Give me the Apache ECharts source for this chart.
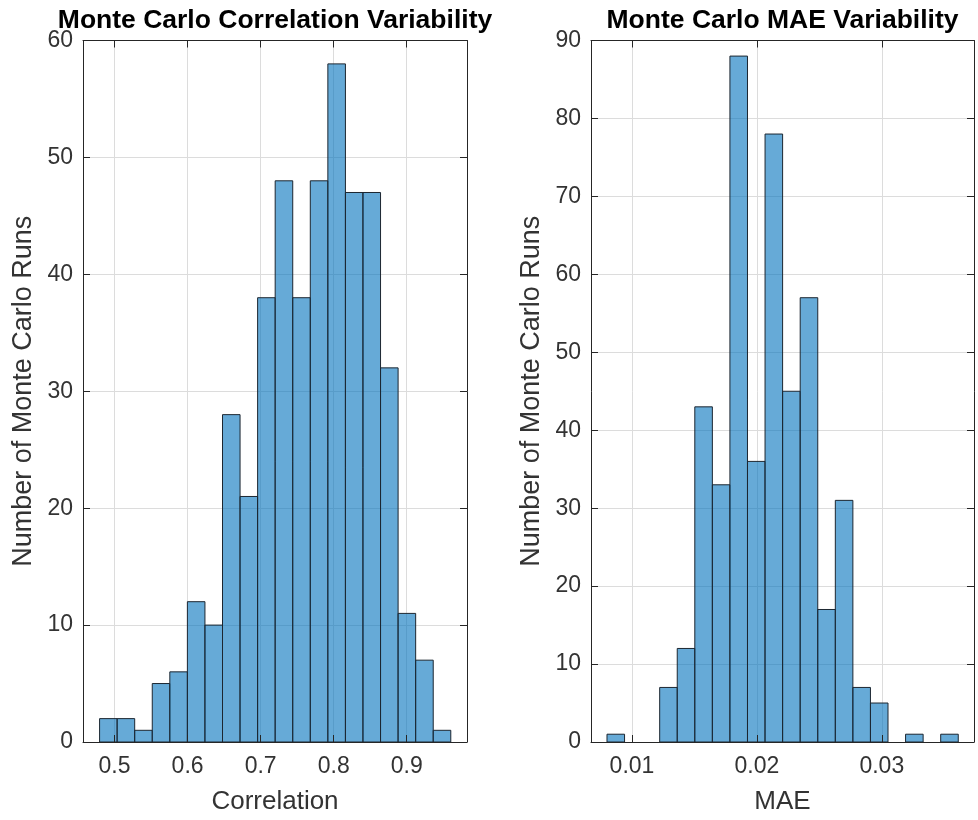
<!DOCTYPE html>
<html>
<head>
<meta charset="utf-8">
<script src="https://cdn.jsdelivr.net/npm/echarts@6/dist/echarts.min.js"></script>
<style>html,body{margin:0;padding:0;background:#fff;}#c{width:978px;height:820px;}</style>
</head>
<body>
<div id="c"></div>
<script>
// ---- data ----
const corrCounts = [2, 2, 1, 5, 6, 12, 10, 28, 21, 38, 48, 38, 48, 58, 47, 47, 32, 11, 7, 1];
const corrBinStart = 0.4795;
const corrBinWidth = 0.02404;
const maeCounts = [1, 0, 0, 7, 12, 43, 33, 88, 36, 78, 45, 57, 17, 31, 7, 5, 0, 1, 0, 1];
const maeBinStart = 0.0080;
const maeBinWidth = 0.001406;
const corrTicks = [0.5, 0.6, 0.7, 0.8, 0.9];
const maeTicks = [0.01, 0.02, 0.03];
const titles = ['Monte Carlo Correlation Variability', 'Monte Carlo MAE Variability'];
const xNames = ['Correlation', 'MAE'];
const yName = 'Number of Monte Carlo Runs';

function binsToData(counts, start, width) {
  const out = [];
  counts.forEach((c, i) => {
    if (c > 0) out.push([start + i * width, start + (i + 1) * width, c]);
  });
  return out;
}

const FONT = 'Liberation Sans, Arial, Helvetica, sans-serif';
const AX = '#262626';
const TXT = '#333333';

const grids = [
  { left: 83, top: 40.5, width: 384, height: 702.5 },
  { left: 591, top: 40.5, width: 383, height: 702.5 }
];
const xRanges = [[0.4568, 0.9825], [0.00672, 0.03738]];
const yMax = [60, 90];
const xTicksArr = [corrTicks, maeTicks];

const xAxes = [], yAxes = [], series = [];
[0, 1].forEach(g => {
  const base = { type: 'value', gridIndex: g, min: xRanges[g][0], max: xRanges[g][1] };
  // primary: labels, name, grid lines
  xAxes.push(Object.assign({}, base, {
    position: 'bottom',
    name: xNames[g], nameLocation: 'middle', nameGap: 47,
    nameTextStyle: { fontFamily: FONT, fontSize: 26, color: TXT },
    axisLine: { show: false },
    axisTick: { show: false, customValues: xTicksArr[g] },
    axisLabel: { customValues: xTicksArr[g], fontFamily: FONT, fontSize: 23, color: TXT, margin: 13 },
    splitLine: { show: true, lineStyle: { color: '#dcdcdc', width: 1 } }
  }));
  // bottom line + ticks on top of bars
  xAxes.push(Object.assign({}, base, {
    position: 'bottom', z: 10,
    axisLine: { show: true, onZero: false, lineStyle: { color: AX, width: 1 } },
    axisTick: { show: true, inside: true, length: 7, customValues: xTicksArr[g], lineStyle: { color: AX } },
    axisLabel: { show: false, customValues: xTicksArr[g] },
    splitLine: { show: false }
  }));
  // top box line + ticks
  xAxes.push(Object.assign({}, base, {
    position: 'top', z: 10,
    axisLine: { show: true, onZero: false, lineStyle: { color: AX, width: 1 } },
    axisTick: { show: true, inside: true, length: 7, customValues: xTicksArr[g], lineStyle: { color: AX } },
    axisLabel: { show: false, customValues: xTicksArr[g] },
    splitLine: { show: false }
  }));
  const ybase = { type: 'value', gridIndex: g, min: 0, max: yMax[g], interval: 10 };
  yAxes.push(Object.assign({}, ybase, {
    position: 'left',
    name: yName, nameLocation: 'middle', nameGap: 46,
    nameTextStyle: { fontFamily: FONT, fontSize: 27, color: TXT },
    axisLine: { show: false }, axisTick: { show: false },
    axisLabel: { fontFamily: FONT, fontSize: 23, color: TXT, margin: 10 },
    splitLine: { show: true, lineStyle: { color: '#dcdcdc', width: 1 } }
  }));
  yAxes.push(Object.assign({}, ybase, {
    position: 'left', z: 10,
    axisLine: { show: true, onZero: false, lineStyle: { color: AX, width: 1 } },
    axisTick: { show: true, inside: true, length: 7, lineStyle: { color: AX } },
    axisLabel: { show: false }, splitLine: { show: false }
  }));
  yAxes.push(Object.assign({}, ybase, {
    position: 'right', z: 10,
    axisLine: { show: true, onZero: false, lineStyle: { color: AX, width: 1 } },
    axisTick: { show: true, inside: true, length: 7, lineStyle: { color: AX } },
    axisLabel: { show: false }, splitLine: { show: false }
  }));
});

function renderBar(params, api) {
  const p0 = api.coord([api.value(0), api.value(2)]);
  const p1 = api.coord([api.value(1), 0]);
  return {
    type: 'rect',
    shape: { x: p0[0], y: p0[1], width: p1[0] - p0[0], height: p1[1] - p0[1] },
    style: { fill: 'rgba(0,114,189,0.6)', stroke: '#1c2630', lineWidth: 1 }
  };
}

series.push({
  type: 'custom', xAxisIndex: 0, yAxisIndex: 0, renderItem: renderBar,
  encode: { x: [0, 1], y: 2 },
  data: binsToData(corrCounts, corrBinStart, corrBinWidth), silent: true
});
series.push({
  type: 'custom', xAxisIndex: 3, yAxisIndex: 3, renderItem: renderBar,
  encode: { x: [0, 1], y: 2 },
  data: binsToData(maeCounts, maeBinStart, maeBinWidth), silent: true
});

const chart = echarts.init(document.getElementById('c'), null, { renderer: 'canvas' });
chart.setOption({
  backgroundColor: '#ffffff',
  animation: false,
  grid: grids,
  xAxis: xAxes,
  yAxis: yAxes,
  series: series,
  graphic: [0, 1].map(g => ({
    type: 'text',
    x: grids[g].left + grids[g].width / 2,
    y: 21,
    style: {
      text: titles[g], fontFamily: FONT, fontSize: 26.5, fontWeight: 'bold',
      fill: '#000', textAlign: 'center', textVerticalAlign: 'middle'
    }
  }))
});
</script>
</body>
</html>
